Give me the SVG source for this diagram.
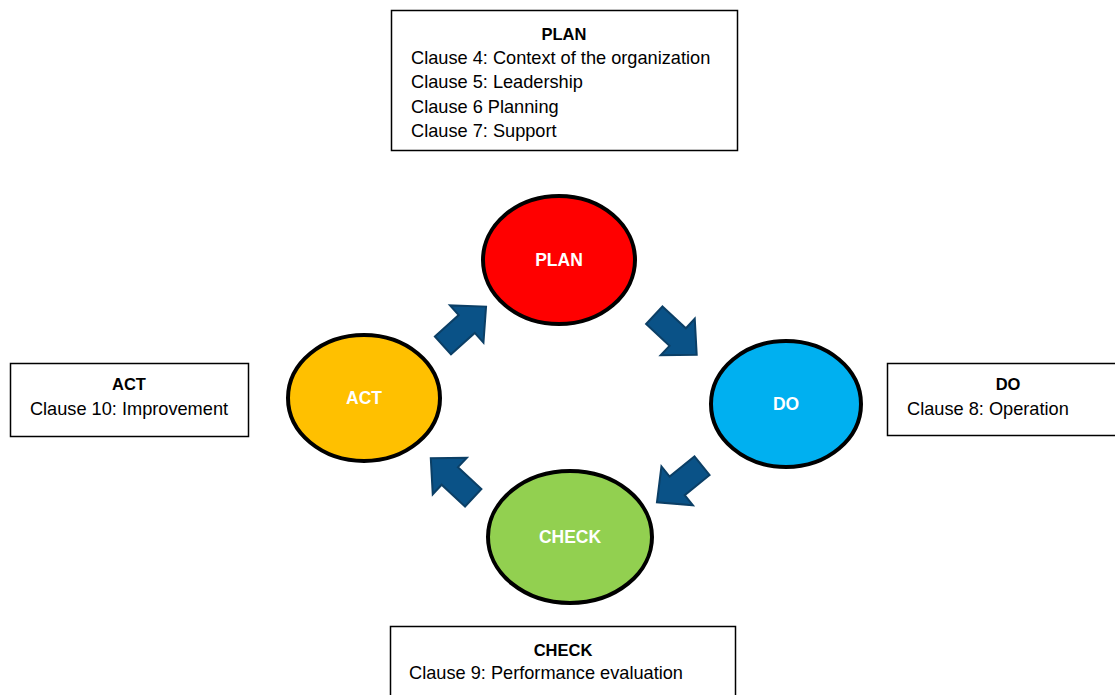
<svg xmlns="http://www.w3.org/2000/svg" width="1115" height="695" viewBox="0 0 1115 695">
<defs>
<style>
.box{fill:#fff;stroke:#000;stroke-width:1.5}
.t{font-family:"Liberation Sans",Arial,sans-serif;font-size:18.2px;fill:#000}
.b{font-weight:bold;font-size:16.5px}
.c{stroke:#000;stroke-width:4}
.ct{font-family:"Liberation Sans",Arial,sans-serif;font-size:17.5px;font-weight:bold;fill:#fff;text-anchor:middle}
.arr{fill:#0A5287;stroke:#0B3F66;stroke-width:2;stroke-linejoin:miter}
</style>
<polygon id="ar" points="-29,-12 3,-12 3,-25 29,0 3,25 3,12 -29,12"/>
</defs>
<rect width="1115" height="695" fill="#fff"/>
<g id="box-plan">
<rect class="box" x="391.5" y="10.5" width="346" height="140"/>
<text class="t b" x="564" y="40" text-anchor="middle">PLAN</text>
<text class="t" x="411" y="64">Clause 4: Context of the organization</text>
<text class="t" x="411" y="88">Clause 5: Leadership</text>
<text class="t" x="411" y="113">Clause 6 Planning</text>
<text class="t" x="411" y="137">Clause 7: Support</text>
</g>
<g id="box-act">
<rect class="box" x="10.5" y="363.5" width="238" height="73"/>
<text class="t b" x="129" y="390" text-anchor="middle">ACT</text>
<text class="t" x="129" y="415" text-anchor="middle">Clause 10: Improvement</text>
</g>
<g id="box-do">
<rect class="box" x="887.5" y="363.5" width="240" height="72"/>
<text class="t b" x="1008" y="390" text-anchor="middle">DO</text>
<text class="t" x="907" y="415">Clause 8: Operation</text>
</g>
<g id="box-check">
<rect class="box" x="390.5" y="626.5" width="345" height="80"/>
<text class="t b" x="563" y="656" text-anchor="middle">CHECK</text>
<text class="t" x="409" y="679">Clause 9: Performance evaluation</text>
</g>
<g id="node-plan">
<ellipse class="c" cx="559" cy="260" rx="76" ry="64" fill="#FF0000"/>
<text class="ct" x="559" y="266">PLAN</text>
</g>
<g id="node-do">
<ellipse class="c" cx="786" cy="404" rx="75" ry="63" fill="#00B0F0"/>
<text class="ct" x="786" y="410">DO</text>
</g>
<g id="node-check">
<ellipse class="c" cx="570" cy="537" rx="82" ry="66" fill="#92D050"/>
<text class="ct" x="570" y="543">CHECK</text>
</g>
<g id="node-act">
<ellipse class="c" cx="364" cy="398" rx="76" ry="63" fill="#FFC000"/>
<text class="ct" x="364" y="404">ACT</text>
</g>
<g id="connectors">
<use href="#ar" class="arr" transform="translate(464.5,326) rotate(-42)"/>
<use href="#ar" class="arr" transform="translate(675.5,335) rotate(43)"/>
<use href="#ar" class="arr" transform="translate(679.5,484) rotate(141)"/>
<use href="#ar" class="arr" transform="translate(452,478) rotate(-137)"/>
</g>
</svg>
